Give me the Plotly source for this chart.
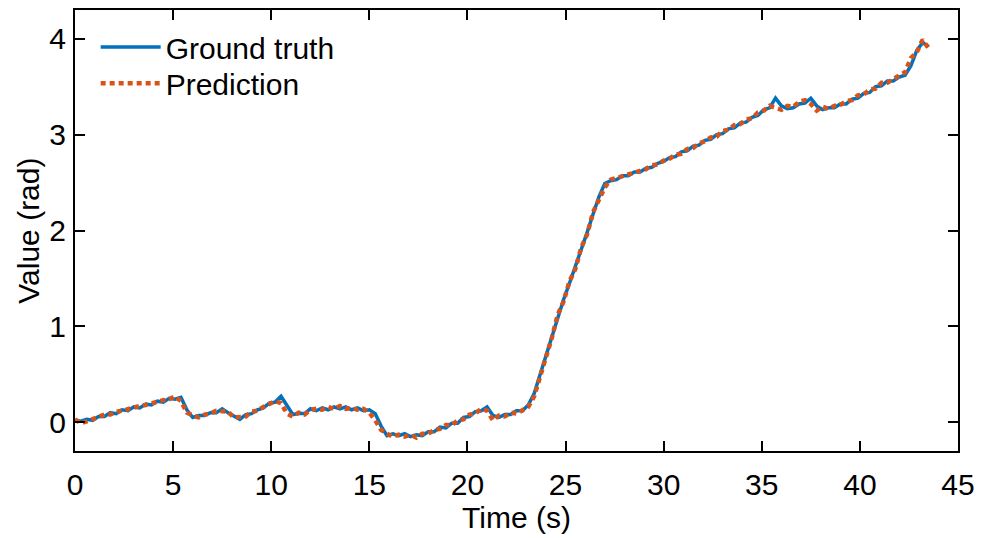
import numpy as np
import plotly.graph_objects as go

time_s = [round(0.3 * i, 1) for i in range(146)]

ground_truth = [
    0.02, 0.01, 0.03, 0.02, 0.06, 0.06, 0.10, 0.09, 0.13, 0.12,
    0.16, 0.15, 0.19, 0.18, 0.22, 0.21, 0.25, 0.24, 0.26, 0.13,
    0.05, 0.07, 0.07, 0.10, 0.10, 0.14, 0.10, 0.06, 0.03, 0.08,
    0.09, 0.13, 0.15, 0.20, 0.21, 0.27, 0.18, 0.08, 0.09, 0.09,
    0.14, 0.12, 0.15, 0.13, 0.16, 0.14, 0.16, 0.13, 0.15, 0.12,
    0.13, 0.09, -0.04, -0.14, -0.12, -0.14, -0.12, -0.15, -0.13, -0.14,
    -0.10, -0.10, -0.05, -0.06, -0.01, -0.01, 0.05, 0.06, 0.11, 0.12,
    0.16, 0.07, 0.05, 0.08, 0.08, 0.12, 0.12, 0.18, 0.30, 0.50,
    0.70, 0.90, 1.10, 1.28, 1.45, 1.62, 1.80, 1.98, 2.17, 2.35,
    2.49, 2.52, 2.53, 2.57, 2.57, 2.61, 2.61, 2.65, 2.66, 2.70,
    2.72, 2.76, 2.77, 2.82, 2.83, 2.88, 2.89, 2.94, 2.95, 3.00,
    3.01, 3.06, 3.07, 3.12, 3.13, 3.18, 3.20, 3.26, 3.28, 3.38,
    3.30, 3.27, 3.28, 3.32, 3.33, 3.38, 3.30, 3.26, 3.28, 3.28,
    3.32, 3.32, 3.37, 3.38, 3.43, 3.44, 3.50, 3.51, 3.56, 3.56,
    3.60, 3.62, 3.72, 3.88, 3.96, 3.92,
]

prediction = [
    0.03, -0.01, 0.01, 0.03, 0.05, 0.08, 0.08, 0.11, 0.12, 0.14,
    0.15, 0.17, 0.18, 0.20, 0.21, 0.23, 0.24, 0.27, 0.22, 0.10,
    0.07, 0.05, 0.08, 0.09, 0.12, 0.12, 0.11, 0.05, 0.05, 0.06,
    0.11, 0.12, 0.16, 0.19, 0.22, 0.20, 0.09, 0.06, 0.10, 0.08,
    0.13, 0.14, 0.13, 0.16, 0.14, 0.17, 0.14, 0.15, 0.13, 0.14,
    0.10, 0.02, -0.08, -0.12, -0.15, -0.13, -0.15, -0.13, -0.16, -0.12,
    -0.12, -0.08, -0.07, -0.03, -0.03, 0.02, 0.03, 0.08, 0.09, 0.14,
    0.12, 0.02, 0.07, 0.06, 0.10, 0.09, 0.13, 0.16, 0.27, 0.47,
    0.68, 0.88, 1.12, 1.26, 1.47, 1.60, 1.82, 1.96, 2.19, 2.33,
    2.45, 2.53, 2.55, 2.56, 2.59, 2.60, 2.63, 2.64, 2.68, 2.69,
    2.73, 2.75, 2.79, 2.80, 2.85, 2.86, 2.91, 2.93, 2.97, 2.98,
    3.04, 3.05, 3.10, 3.11, 3.16, 3.17, 3.23, 3.25, 3.30, 3.28,
    3.26, 3.30, 3.29, 3.34, 3.36, 3.32, 3.25, 3.29, 3.27, 3.30,
    3.31, 3.35, 3.36, 3.41, 3.42, 3.47, 3.48, 3.54, 3.54, 3.58,
    3.61, 3.65, 3.80, 3.86, 3.99, 3.90,
]

x_ticks = [0, 5, 10, 15, 20, 25, 30, 35, 40, 45]
y_ticks = [0, 1, 2, 3, 4]

FONT = "Liberation Sans, Arial, sans-serif"
FS = 30

fig = go.Figure()
fig.add_trace(go.Scatter(
    x=time_s, y=ground_truth, mode="lines", name="Ground truth",
    line=dict(color="#0072BD", width=3.5), legend="legend",
))
fig.add_trace(go.Scatter(
    x=time_s, y=prediction, mode="lines", name="Prediction",
    line=dict(color="#D95319", width=4.5, dash="5px,4px"), legend="legend2",
))

axis_common = dict(
    showline=True, linecolor="black", linewidth=2, mirror="ticks",
    ticks="inside", ticklen=10, tickwidth=2, tickcolor="black",
    showgrid=False, zeroline=False,
    tickfont=dict(family=FONT, size=FS, color="black"),
)

fig.update_xaxes(
    range=[0, 45], tickvals=x_ticks, ticklabelstandoff=6,
    title=dict(text="Time (s)", font=dict(family=FONT, size=FS, color="black"), standoff=2),
    **axis_common,
)
fig.update_yaxes(
    range=[-0.3, 4.3], tickvals=y_ticks, ticklabelstandoff=1,
    **axis_common,
)

fig.add_annotation(
    text="Value (rad)", xref="paper", yref="paper", x=-0.053, y=0.5,
    xanchor="center", yanchor="middle", textangle=-90, showarrow=False,
    font=dict(family=FONT, size=FS, color="black"),
)

legend_common = dict(
    xanchor="left", yanchor="middle",
    bgcolor="rgba(0,0,0,0)", borderwidth=0,
    font=dict(family=FONT, size=FS, color="black"),
    itemwidth=60, tracegroupgap=0,
)

fig.update_layout(
    width=974, height=530,
    margin=dict(l=67, r=24, t=2, b=87, autoexpand=False),
    paper_bgcolor="white", plot_bgcolor="white",
    font=dict(family=FONT, size=FS, color="black"),
    showlegend=True,
    legend=dict(x=0.0234, y=0.916, **legend_common),
    legend2=dict(x=0.0234, y=0.834, **legend_common),
)

fig.write_html("out.html")
